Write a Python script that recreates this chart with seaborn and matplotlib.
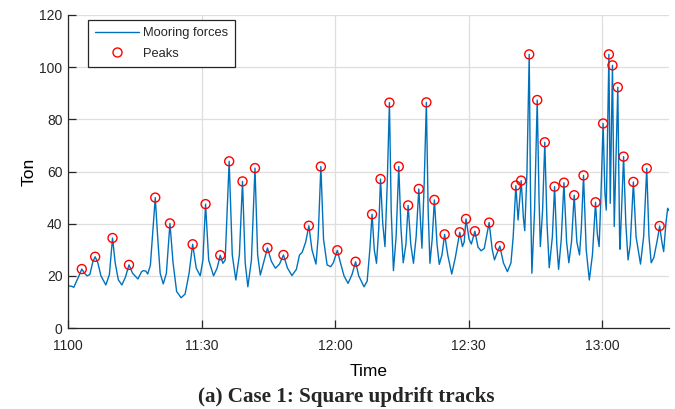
import matplotlib
matplotlib.use("Agg")
import matplotlib.pyplot as plt
import seaborn as sns
import pandas as pd
from matplotlib.lines import Line2D

# Mooring force record, minutes after 11:00 and force in tonnes
minutes = [
    0.0, 0.8, 1.3, 2.2, 3.1, 3.7, 4.3, 4.9, 5.6, 6.1, 6.7, 7.4, 8.5, 9.3, 10.0,
    10.6, 11.3, 12.1, 12.9, 13.7, 14.5, 15.7, 16.5, 16.9, 17.5, 17.9, 18.5, 19.0,
    19.6, 20.1, 20.7, 21.4, 22.1, 22.9, 23.6, 24.4, 25.4, 26.3, 27.2, 28.0, 28.8,
    29.7, 30.3, 30.9, 31.6, 32.7, 33.5, 34.2, 34.8, 35.3, 36.2, 36.9, 37.7, 38.5,
    39.2, 39.8, 40.4, 41.2, 42.0, 42.6, 43.2, 44.0, 44.8, 45.7, 46.6, 47.5, 48.4,
    49.3, 50.3, 51.3, 52.0, 52.6, 53.4, 54.1, 54.8, 55.7, 56.2, 56.8, 57.4, 58.2,
    59.0, 59.6, 60.5, 61.2, 62.0, 62.9, 63.8, 64.6, 65.3, 66.5, 67.2, 67.8, 68.3,
    68.8, 69.3, 69.8, 70.2, 70.7, 71.2, 71.7, 72.2, 72.6, 73.1, 73.7, 74.3, 74.8,
    75.3, 75.9, 76.4, 77.0, 77.6, 78.2, 78.8, 79.5, 80.0, 80.5, 80.9, 81.3, 81.8,
    82.3, 82.9, 83.4, 84.0, 84.6, 85.3, 86.2, 87.0, 88.0, 88.6, 89.0, 89.4, 90.1,
    90.6, 91.4, 92.1, 92.8, 93.5, 94.6, 95.3, 95.8, 96.2, 97.0, 97.8, 98.7, 99.5,
    100.0, 100.6, 101.1, 101.8, 102.3, 102.6, 103.1, 103.6, 103.9, 104.2, 104.8,
    105.4, 105.8, 106.1, 106.6, 107.1, 107.6, 108.1, 108.8, 109.3, 109.8, 110.2,
    110.8, 111.4, 112.0, 112.5, 113.1, 113.7, 114.3, 114.9, 115.3, 115.8, 116.4,
    117.1, 117.8, 118.5, 118.9, 119.3, 119.7, 120.2, 120.6, 120.9, 121.5, 121.8,
    122.3, 122.7, 123.5, 123.9, 124.0, 124.8, 125.3, 125.8, 126.3, 127.0, 127.6,
    128.6, 129.3, 130.0, 130.5, 131.0, 131.6, 132.4, 132.9, 133.4, 133.8, 134.3,
    134.7, 135.0,
]
force_ton = [
    16.1, 16.0, 15.6, 19.0, 22.6, 21.0, 20.0, 20.5, 25.5, 27.3, 25.0, 20.0, 16.5, 20.5, 34.5,
    25.0, 18.5, 16.5, 19.5, 24.2, 21.0, 18.8, 21.5, 22.0, 21.8, 20.7, 24.0, 36.0,
    50.0, 36.0, 21.0, 16.9, 21.0, 40.1, 25.0, 14.0, 11.6, 13.0, 21.0, 32.1, 23.0,
    20.0, 26.0, 47.5, 26.0, 20.0, 23.0, 27.9, 24.8, 26.0, 63.9, 28.0, 18.4, 28.0,
    56.2, 25.0, 15.8, 26.0, 61.3, 28.0, 20.3, 25.5, 30.7, 25.5, 22.9, 24.5, 28.0,
    23.0, 20.1, 22.5, 28.0, 29.0, 33.0, 39.2, 30.0, 24.5, 35.0, 61.9, 34.0, 24.2,
    23.5, 25.0, 29.8, 25.0, 20.0, 17.1, 20.5, 25.4, 20.0, 15.8, 18.0, 30.0, 43.6,
    30.0, 24.8, 38.0, 57.1, 40.0, 31.2, 55.0, 86.4, 45.0, 22.0, 35.0, 61.9, 38.0,
    25.0, 32.0, 47.0, 32.0, 24.8, 35.0, 53.3, 30.6, 55.0, 86.5, 45.0, 24.8, 34.0,
    49.1, 32.0, 24.4, 28.0, 35.9, 28.0, 20.7, 27.0, 36.7, 31.2, 33.0, 41.8, 34.0,
    32.2, 37.1, 31.0, 29.6, 30.5, 40.4, 30.0, 26.1, 28.0, 31.4, 25.0, 21.6, 25.0,
    35.0, 54.6, 41.4, 56.5, 42.0, 37.3, 60.0, 104.9, 50.0, 21.0, 45.0,
    87.4, 50.0, 31.2, 45.0, 71.2, 40.0, 23.1, 35.0, 54.2, 32.0, 22.5,
    34.0, 55.7, 33.0, 25.0, 33.0, 50.9, 33.0, 28.0, 38.0, 58.5, 30.0,
    18.4, 28.0, 48.2, 36.0, 31.2, 50.0, 78.4, 52.0, 45.2, 104.9, 47.8,
    100.7, 38.9, 92.3, 35.0, 30.2, 65.7, 40.0, 26.1, 32.0, 56.0, 35.0,
    24.5, 35.0, 61.2, 35.0, 25.0, 27.0, 34.0, 39.1, 33.0, 29.3, 40.0,
    45.9, 45.0,
]

# Times (minutes after 11:00) of the detected peaks
peak_minutes = [
    3.1, 6.1, 10.0, 13.7, 19.6, 22.9, 28.0, 30.9, 34.2, 36.2, 39.2, 42.0, 44.8,
    48.4, 54.1, 56.8, 60.5, 64.6, 68.3, 70.2, 72.2, 74.3, 76.4, 78.8, 80.5, 82.3,
    84.6, 88.0, 89.4, 91.4, 94.6, 97.0, 100.6, 101.8, 103.6, 105.4, 107.1, 109.3,
    111.4, 113.7, 115.8, 118.5, 120.2, 121.5, 122.3, 123.5, 124.8, 127.0, 130.0,
    132.9,
]

x_ticks = [0, 30, 60, 90, 120]
x_tick_labels = ["1100", "11:30", "12:00", "12:30", "13:00"]
y_ticks = [0, 20, 40, 60, 80, 100, 120]

series = pd.DataFrame({"minutes": minutes, "force": force_ton})
peaks = series[series["minutes"].isin(peak_minutes)]

sns.set_style("whitegrid")
plt.rcParams["font.family"] = ["Liberation Sans", "DejaVu Sans"]

line_color = "#0072BD"
text_color = "#262626"

fig = plt.figure(figsize=(6.75, 4.09), dpi=100)
ax = fig.add_axes([68 / 675, 1 - 328 / 409, 601 / 675, 313 / 409])

sns.lineplot(data=series, x="minutes", y="force", ax=ax, color=line_color,
             linewidth=1.0, estimator=None, sort=False, legend=False)
sns.scatterplot(data=peaks, x="minutes", y="force", ax=ax, marker="o",
                s=42, facecolor="none", edgecolor="#FF0000", linewidth=1.0,
                legend=False, zorder=3)

ax.set_xlim(0, 135)
ax.set_ylim(0, 120)
ax.set_xticks(x_ticks)
ax.set_xticklabels(x_tick_labels)
ax.set_yticks(y_ticks)

ax.grid(True, color="#dedede", linewidth=0.9)
ax.set_axisbelow(True)
for side in ("top", "right"):
    ax.spines[side].set_visible(False)
for side in ("left", "bottom"):
    ax.spines[side].set_visible(True)
    ax.spines[side].set_color(text_color)
    ax.spines[side].set_linewidth(0.9)

ax.tick_params(axis="both", direction="in", length=6, width=0.9,
               colors=text_color, labelsize=10, bottom=True, left=True,
               top=False, right=False)
ax.tick_params(axis="x", pad=8)
ax.tick_params(axis="y", pad=4)

ax.set_xlabel("Time", fontsize=12.5, color="black", labelpad=8)
ax.set_ylabel("Ton", fontsize=12.5, color="black", labelpad=2)

handles = [
    Line2D([], [], color=line_color, linewidth=1.0, label="Mooring forces"),
    Line2D([], [], color="#FF0000", marker="o", markersize=6.5,
           markerfacecolor="none", markeredgewidth=1.0, linestyle="none",
           label="Peaks"),
]
leg = ax.legend(handles=handles, loc="upper left",
                bbox_to_anchor=(20 / 601, 1 - 5 / 313), borderaxespad=0,
                fontsize=9.3, frameon=True, fancybox=False, handlelength=3.4,
                handletextpad=0.3, labelspacing=0.65, borderpad=0.55)
leg.get_frame().set_edgecolor(text_color)
leg.get_frame().set_linewidth(0.9)
leg.get_frame().set_alpha(1)

fig.text(346 / 675, 1 - 397 / 409, "(a) Case 1: Square updrift tracks",
         ha="center", va="center", fontsize=15.2, fontweight="bold",
         family=["Liberation Serif", "DejaVu Serif"])

fig.savefig("out.png", dpi=100)
